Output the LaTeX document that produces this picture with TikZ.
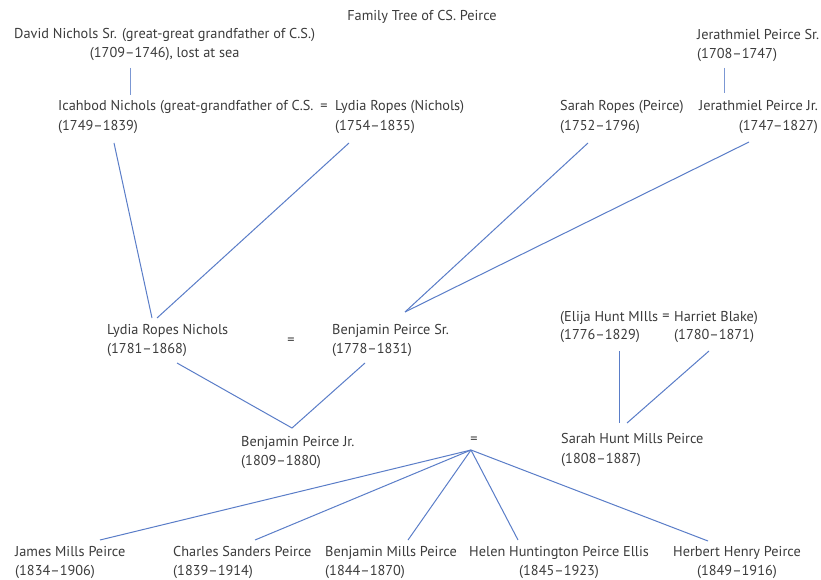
\documentclass[tikz,border=0pt]{standalone}
\usepackage{fontspec}
\setmainfont{PT Sans}
\definecolor{txt}{RGB}{60,60,60}
\definecolor{lnk}{RGB}{90,125,200}
\begin{document}
\begin{tikzpicture}[x=1pt,y=-1pt,
  person/.style={inner sep=0pt,anchor=base west,align=left,text=txt,font=\fontsize{14.3}{19}\selectfont},
  eqsign/.style={inner sep=0pt,text=txt,font=\fontsize{14.3}{19}\selectfont},
  link/.style={draw=lnk,line width=1pt},
  thinlink/.style={draw=lnk!80,line width=0.7pt}]
\useasboundingbox[fill=white] (0,0) rectangle (821,580);
% texts
\node[person,anchor=base] (title) at (422,21) {Family Tree of CS. Peirce};
\node[person,align=center] (david) at (14,58) {David Nichols Sr. (great-great grandfather of C.S.)\\(1709–1746), lost at sea};
\node[person] (jersr) at (697,59) {Jerathmiel Peirce Sr.\\(1708–1747)};
\node[person,font=\fontsize{14.3}{20}\selectfont] (icahbod) at (58,131) {Icahbod Nichols (great-grandfather of C.S.\\(1749–1839)};
\node[eqsign] (eq0) at (324,107) {=};
\node[person,font=\fontsize{14.3}{20}\selectfont] (lydiaropes) at (335,131) {Lydia Ropes (Nichols)\\(1754–1835)};
\node[person,font=\fontsize{14.3}{20}\selectfont] (sarahropes) at (560,131) {Sarah Ropes (Peirce)\\(1752–1796)};
\node[person,align=right,font=\fontsize{14.3}{20}\selectfont] (jerjr) at (699,131) {Jerathmiel Peirce Jr.\\(1747–1827)};
\node[person] (lydia) at (107,353) {Lydia Ropes Nichols\\(1781–1868)};
\node[eqsign] (eq1) at (291,341) {=};
\node[person] (bpsr) at (332,353) {Benjamin Peirce Sr.\\(1778–1831)};
\node[person,font=\fontsize{14.3}{18}\selectfont] (elija) at (560,339) {(Elija Hunt MIlls\\(1776–1829)};
\node[eqsign] (eq3) at (666,317) {=};
\node[person,font=\fontsize{14.3}{18}\selectfont] (harriet) at (674,339) {Harriet Blake)\\(1780–1871)};
\node[person] (bpjr) at (241,465) {Benjamin Peirce Jr.\\(1809–1880)};
\node[eqsign] (eq2) at (474,440) {=};
\node[person,font=\fontsize{14.3}{20}\selectfont] (sarahhmp) at (561,463) {Sarah Hunt Mills Peirce\\(1808–1887)};
\node[person] (james) at (15,575) {James Mills Peirce\\(1834–1906)};
\node[person] (charles) at (173,575) {Charles Sanders Peirce\\(1839–1914)};
\node[person] (benmills) at (325,575) {Benjamin Mills Peirce\\(1844–1870)};
\node[person,align=center] (helen) at (469,575) {Helen Huntington Peirce Ellis\\(1845–1923)};
\node[person,align=center] (herbert) at (673,575) {Herbert Henry Peirce\\(1849–1916)};
% connector end points
\coordinate (davidB) at (130,68);
\coordinate (icahbodT) at (130,95);
\coordinate (jersrB) at (724,68);
\coordinate (jerjrT) at (724,93);
\coordinate (icahbodB) at (114,143);
\coordinate (lydiaropesB) at (349,143);
\coordinate (lydiaT1) at (152,318);
\coordinate (lydiaT2) at (157,318);
\coordinate (sarahropesB) at (588,143);
\coordinate (jerjrB) at (749,142);
\coordinate (bpsrT) at (405,312);
\coordinate (lydiaB) at (177,363);
\coordinate (bpsrB) at (365,363);
\coordinate (bpjrT) at (292,428);
\coordinate (elijaB) at (619,351);
\coordinate (harrietB) at (709,351);
\coordinate (sarahhmpT1) at (619,423);
\coordinate (sarahhmpT2) at (627,423);
\coordinate (fan) at (471,450);
\coordinate (jamesT) at (100,540);
\coordinate (charlesT) at (255,540);
\coordinate (benmillsT) at (408,540);
\coordinate (helenT) at (518,540);
\coordinate (herbertT) at (708,541);
% connectors
\draw[thinlink] (davidB) -- (icahbodT);
\draw[thinlink] (jersrB) -- (jerjrT);
\draw[link] (icahbodB) -- (lydiaT1);
\draw[link] (lydiaropesB) -- (lydiaT2);
\draw[link] (sarahropesB) -- (bpsrT);
\draw[link] (jerjrB) -- (bpsrT);
\draw[link] (lydiaB) -- (bpjrT) -- (bpsrB);
\draw[link] (elijaB) -- (sarahhmpT1);
\draw[link] (harrietB) -- (sarahhmpT2);
\draw[link] (fan) -- (jamesT);
\draw[link] (fan) -- (charlesT);
\draw[link] (fan) -- (benmillsT);
\draw[link] (fan) -- (helenT);
\draw[link] (fan) -- (herbertT);
\end{tikzpicture}
\end{document}
